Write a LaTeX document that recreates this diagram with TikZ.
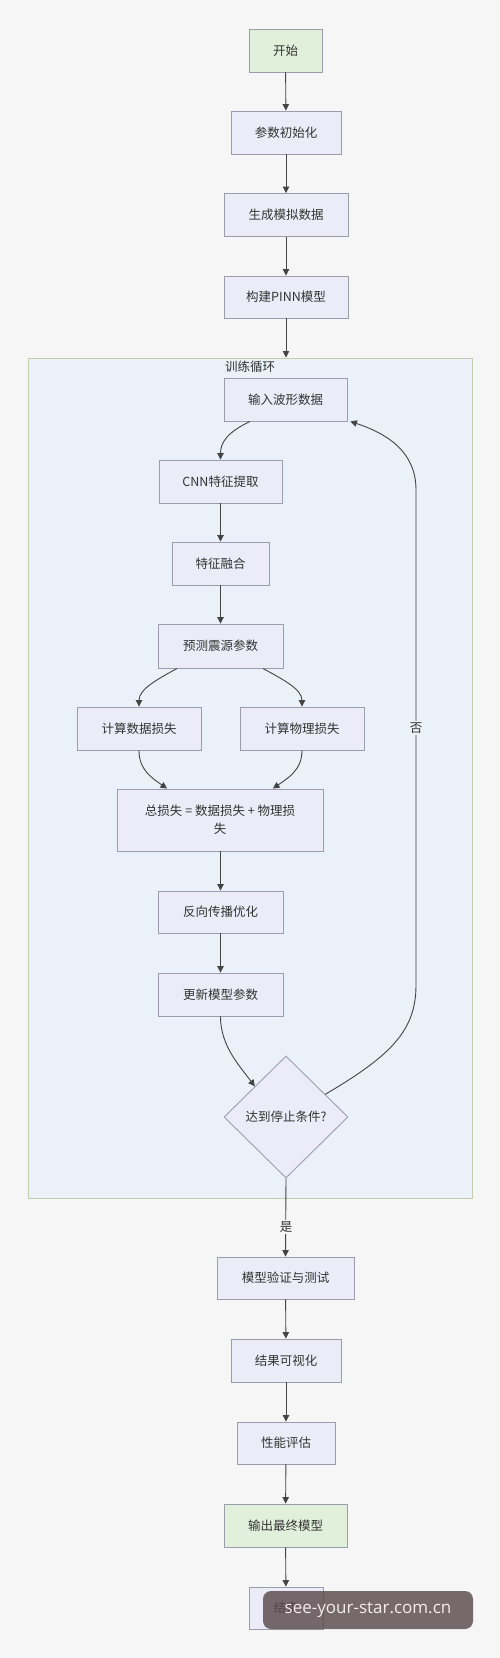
\documentclass[tikz,border=0pt]{standalone}
\usepackage{fontspec}
\setmainfont{Noto Sans CJK SC}
\newfontfamily\wmfont{Open Sans}
\usetikzlibrary{shapes.geometric,arrows.meta,calc}
\definecolor{bgc}{HTML}{F7F6F6}
\definecolor{boxfill}{HTML}{ECECF8}
\definecolor{boxdraw}{HTML}{9C9CAC}
\definecolor{greenfill}{HTML}{E0F0DA}
\definecolor{clusterfill}{HTML}{EAF1F8}
\definecolor{clusterdraw}{HTML}{C5CDB0}
\definecolor{linec}{HTML}{444444}
\definecolor{textc}{HTML}{333333}
\definecolor{wmc}{HTML}{5A4A4E}
\definecolor{wmtext}{HTML}{F2ECEC}
\begin{document}
\begin{tikzpicture}[x=1pt,y=-1pt,
  every node/.style={font=\fontsize{12.5}{18}\selectfont, text=textc},
  proc/.style={draw=boxdraw, fill=boxfill, line width=0.9pt, rectangle, inner sep=0pt, minimum height=43},
  term/.style={proc, fill=greenfill},
  flow/.style={draw=linec, line width=0.9pt, -{Triangle[length=6.5pt,width=6.5pt]}},
  lbl/.style={fill=clusterfill, inner sep=1.5pt},
  lblout/.style={fill=bgc, inner sep=1.5pt}]
\fill[bgc] (0,0) rectangle (500,1658);
\useasboundingbox (0,0) rectangle (500,1658);

% cluster
\node[draw=clusterdraw, fill=clusterfill, line width=1pt, minimum width=444, minimum height=840, inner sep=0pt] (loop) at (250,778) {};
\node (looptitle) at (250,367) {训练循环};

% nodes
\node[term, minimum width=73] (start) at (285.5,50.5) {开始};
\node[proc, minimum width=110] (init) at (286,132.5) {参数初始化};
\node[proc, minimum width=124] (gen) at (286,215) {生成模拟数据};
\node[proc, minimum width=124, minimum height=42] (build) at (286,297) {构建PINN模型};

\node[proc, minimum width=123] (input) at (285.5,399.5) {输入波形数据};
\node[proc, minimum width=123] (cnn) at (220.5,481.5) {CNN特征提取};
\node[proc, minimum width=97] (fuse) at (220.5,563.5) {特征融合};
\node[proc, minimum width=125, minimum height=44] (pred) at (220.5,646) {预测震源参数};
\node[proc, minimum width=124] (dloss) at (139,728.5) {计算数据损失};
\node[proc, minimum width=124] (ploss) at (302,728.5) {计算物理损失};
\node[proc, minimum width=206, minimum height=62, align=center] (total) at (220,820) {总损失 = 数据损失 + 物理损\\失};
\node[proc, minimum width=125, minimum height=42] (back) at (220.5,912) {反向传播优化};
\node[proc, minimum width=125] (update) at (220.5,994.5) {更新模型参数};
\node[diamond, draw=boxdraw, fill=boxfill, line width=0.9pt, minimum width=124, minimum height=122, inner sep=0pt, aspect=1] (dec) at (286,1117) {达到停止条件?};

\node[proc, minimum width=137, minimum height=42] (verify) at (285.5,1278) {模型验证与测试};
\node[proc, minimum width=110] (vis) at (286,1360.5) {结果可视化};
\node[proc, minimum width=98, minimum height=42] (perf) at (286,1443) {性能评估};
\node[term, minimum width=123] (out) at (285.5,1525.5) {输出最终模型};
\node[proc, minimum width=74, minimum height=42] (end) at (286,1608) {结束};

% edges
\draw[flow] (start) -- (init);
\draw[flow] (init) -- (gen);
\draw[flow] (gen) -- (build);
\draw[flow] (build.south) -- (build.south |- loop.north);

\draw[flow] ($(input.south)+(-35.5,0)$) .. controls (228,432) and (220.5,442) .. (cnn.north);
\draw[flow] (cnn) -- (fuse);
\draw[flow] (fuse) -- (pred);
\draw[flow] ($(pred.south)+(-43.5,0)$) .. controls (158,679) and (139,689) .. (dloss.north);
\draw[flow] ($(pred.south)+(42.5,0)$) .. controls (282,679) and (302,689) .. (ploss.north);
\draw[flow] (dloss.south) .. controls (139,770) and (152,778) .. ($(total.north)+(-53,0)$);
\draw[flow] (ploss.south) .. controls (302,770) and (288,778) .. ($(total.north)+(53,0)$);
\draw[flow] (total.south -| back.north) -- (back.north);
\draw[flow] (back) -- (update);
\draw[flow] (update.south) .. controls (220.5,1045) and (238,1064) .. (dec.north west);

\coordinate (fbstart) at ($(dec.north)!0.63!(dec.east)$);
\coordinate (fbend) at ($(input.south east)+(3,0)$);
\draw[flow] (fbstart) .. controls (392,1055) and (416,1030) .. (416,985) -- (416,490) .. controls (416,452) and (388,434) .. (fbend);
\node[lbl] (no) at (416,728) {否};

\draw[flow] (dec.south) -- (verify.north);
\node[lblout] (yes) at (286,1227) {是};

\draw[flow] (verify) -- (vis);
\draw[flow] (vis) -- (perf);
\draw[flow] (perf) -- (out);
\draw[flow] (out) -- (end);

% watermark overlay
\node[fill=wmc, fill opacity=0.82, text opacity=1, rounded corners=8pt, minimum width=210, minimum height=38, inner sep=0pt, font=\wmfont\fontsize{17}{20}\selectfont, text=wmtext] (wm) at (368,1610) {see-your-star.com.cn};
\end{tikzpicture}
\end{document}
